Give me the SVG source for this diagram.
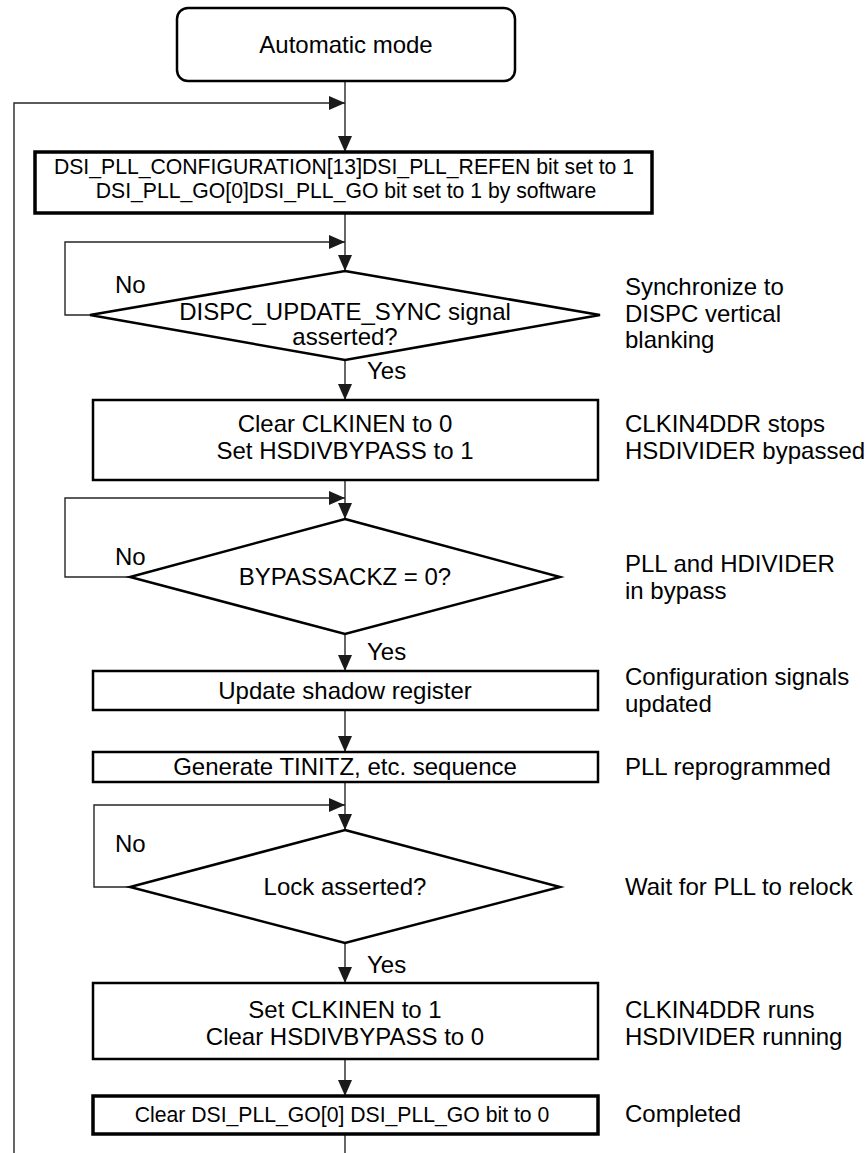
<svg xmlns="http://www.w3.org/2000/svg" width="867" height="1153" viewBox="0 0 867 1153">
<style>
.t{font-family:"Liberation Sans",Arial,Helvetica,sans-serif;font-size:24px;fill:#000}
.s{font-size:21.2px}
.m{text-anchor:middle}
.box{fill:#fff;stroke:#000;stroke-width:2.5}
.thick{stroke-width:3.5}
.c{fill:none;stroke:#262626;stroke-width:1.4}
</style>
<defs>
<marker id="ah" viewBox="0 0 16 14" refX="16" refY="7" markerWidth="16" markerHeight="14" markerUnits="userSpaceOnUse" orient="auto">
<path d="M0,0 L16,7 L0,14 z" fill="#1a1a1a"/>
</marker>
</defs>
<rect width="867" height="1153" fill="#fff"/>
<g id="connectors">
<line class="c" x1="345" y1="81" x2="345" y2="152" marker-end="url(#ah)"/>
<path class="c" d="M14,1153 V103 H345" marker-end="url(#ah)"/>
<line class="c" x1="345" y1="213" x2="345" y2="271" marker-end="url(#ah)"/>
<path class="c" d="M90,315 H65 V242 H345" marker-end="url(#ah)"/>
<line class="c" x1="345" y1="360" x2="345" y2="400" marker-end="url(#ah)"/>
<line class="c" x1="345" y1="480" x2="345" y2="519" marker-end="url(#ah)"/>
<path class="c" d="M130,577 H65 V498 H345" marker-end="url(#ah)"/>
<line class="c" x1="345" y1="634" x2="345" y2="671" marker-end="url(#ah)"/>
<line class="c" x1="345" y1="710" x2="345" y2="752" marker-end="url(#ah)"/>
<line class="c" x1="345" y1="782" x2="345" y2="830" marker-end="url(#ah)"/>
<path class="c" d="M130,887 H94 V805 H345" marker-end="url(#ah)"/>
<line class="c" x1="345" y1="943" x2="345" y2="983" marker-end="url(#ah)"/>
<line class="c" x1="345" y1="1059" x2="345" y2="1096" marker-end="url(#ah)"/>
<line class="c" x1="345" y1="1134" x2="345" y2="1153"/>
<text class="t" x="115" y="293">No</text>
<text class="t" x="367" y="379">Yes</text>
<text class="t" x="115" y="565">No</text>
<text class="t" x="367" y="660">Yes</text>
<text class="t" x="115" y="852">No</text>
<text class="t" x="367" y="973">Yes</text>
</g>
<g id="start">
<rect class="box" x="177" y="8" width="338" height="73" rx="11"/>
<text class="t m" x="346" y="53">Automatic mode</text>
</g>
<g id="config">
<rect class="box thick" x="35" y="152" width="617" height="61"/>
<text class="t s m" x="344" y="174">DSI_PLL_CONFIGURATION[13]DSI_PLL_REFEN bit set to 1</text>
<text class="t s m" x="346" y="198">DSI_PLL_GO[0]DSI_PLL_GO bit set to 1 by software</text>
</g>
<g id="sync">
<polygon class="box" points="345,271 600,315 345,360 90,315"/>
<text class="t m" x="345" y="320">DISPC_UPDATE_SYNC signal</text>
<text class="t m" x="345" y="345">asserted?</text>
</g>
<g id="note-sync">
<text class="t" x="625" y="295">Synchronize to</text>
<text class="t" x="625" y="322">DISPC vertical</text>
<text class="t" x="625" y="348">blanking</text>
</g>
<g id="bypass">
<rect class="box" x="93" y="400" width="505" height="80"/>
<text class="t m" x="345" y="432">Clear CLKINEN to 0</text>
<text class="t m" x="345" y="459">Set HSDIVBYPASS to 1</text>
</g>
<g id="note-bypass">
<text class="t" x="625" y="432">CLKIN4DDR stops</text>
<text class="t" x="625" y="459">HSDIVIDER bypassed</text>
</g>
<g id="ack">
<polygon class="box" points="345,519 560,577 345,634 130,577"/>
<text class="t m" x="345" y="585">BYPASSACKZ = 0?</text>
</g>
<g id="note-ack">
<text class="t" x="625" y="572">PLL and HDIVIDER</text>
<text class="t" x="625" y="599">in bypass</text>
</g>
<g id="shadow">
<rect class="box" x="93" y="671" width="505" height="39"/>
<text class="t m" x="345" y="699">Update shadow register</text>
</g>
<g id="note-shadow">
<text class="t" x="625" y="685">Configuration signals</text>
<text class="t" x="625" y="712">updated</text>
</g>
<g id="tinitz">
<rect class="box" x="93" y="752" width="505" height="30"/>
<text class="t m" x="345" y="775">Generate TINITZ, etc. sequence</text>
</g>
<g id="note-tinitz">
<text class="t" x="625" y="775">PLL reprogrammed</text>
</g>
<g id="lock">
<polygon class="box" points="345,830 560,887 345,943 130,887"/>
<text class="t m" x="345" y="895">Lock asserted?</text>
</g>
<g id="note-lock">
<text class="t" x="625" y="895">Wait for PLL to relock</text>
</g>
<g id="run">
<rect class="box" x="93" y="983" width="505" height="76"/>
<text class="t m" x="345" y="1018">Set CLKINEN to 1</text>
<text class="t m" x="345" y="1045">Clear HSDIVBYPASS to 0</text>
</g>
<g id="note-run">
<text class="t" x="625" y="1018">CLKIN4DDR runs</text>
<text class="t" x="625" y="1045">HSDIVIDER running</text>
</g>
<g id="clear">
<rect class="box thick" x="93" y="1096" width="505" height="38"/>
<text class="t s m" x="342" y="1122">Clear DSI_PLL_GO[0] DSI_PLL_GO bit to 0</text>
</g>
<g id="note-clear">
<text class="t" x="625" y="1122">Completed</text>
</g>
</svg>
